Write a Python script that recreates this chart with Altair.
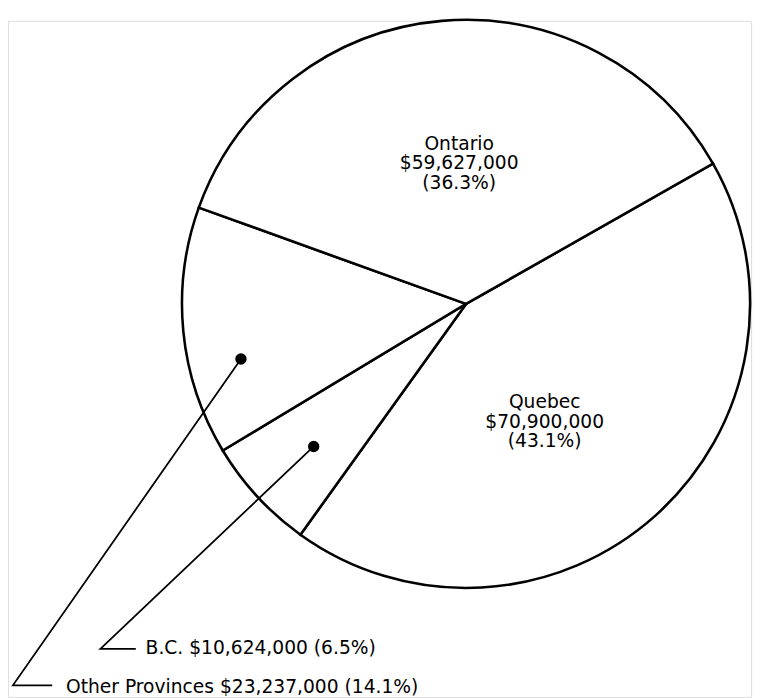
import math
import altair as alt
import pandas as pd

# ---- data ----
provinces = ["Quebec", "B.C.", "Other Provinces", "Ontario"]
amounts = [70900000, 10624000, 23237000, 59627000]
amount_labels = ["$70,900,000", "$10,624,000", "$23,237,000", "$59,627,000"]
percent_labels = ["(43.1%)", "(6.5%)", "(14.1%)", "(36.3%)"]
slice_order = [0, 1, 2, 3]

# ---- layout (chart pixel frame) ----
W, H = 756, 688
CX, CY, R = 466, 288, 289
START = math.radians(60.4)
FONT = "DejaVu Sans"
FS = 19

pie_df = pd.DataFrame({"province": provinces, "amount": amounts, "order": slice_order})

pie = alt.Chart(pie_df).mark_arc(
    radius=R, fill="white", stroke="black", strokeWidth=2.6
).encode(
    theta=alt.Theta("amount:Q", stack=True,
                    scale=alt.Scale(range=[START, START + 2 * math.pi])),
    order=alt.Order("order:Q"),
    x=alt.value(CX),
    y=alt.value(CY),
)

xs = alt.Scale(domain=[0, W], nice=False, zero=False)
ys = alt.Scale(domain=[0, H], reverse=True, nice=False, zero=False)

# labels inside slices (one row per text line)
inside_pos = {"Ontario": (459, [131, 151, 171]), "Quebec": (546, [394, 414, 434])}
rows = []
for p, (lx, lys) in inside_pos.items():
    i = provinces.index(p)
    for txt, ly in zip([p, amount_labels[i], percent_labels[i]], lys):
        rows.append({"px": lx, "py": ly, "t": txt})
inside_df = pd.DataFrame(rows)

inside = alt.Chart(inside_df).mark_text(
    font=FONT, fontSize=FS, align="center", baseline="alphabetic", color="black"
).encode(
    x=alt.X("px:Q", scale=xs, axis=None),
    y=alt.Y("py:Q", scale=ys, axis=None),
    text="t:N",
)

# callouts for small slices
callout_pos = {
    "B.C.": [(311, 433), (94, 639), (130, 639)],
    "Other Provinces": [(237, 344), (5, 676), (45, 676)],
}
text_pos = {"B.C.": (140, 644), "Other Provinces": (59, 684)}

line_rows, dot_rows, lab_rows = [], [], []
for p, pts in callout_pos.items():
    for k, (a, b) in enumerate(pts):
        line_rows.append({"g": p, "seq": k, "px": a, "py": b})
    dot_rows.append({"px": pts[0][0], "py": pts[0][1]})
    i = provinces.index(p)
    tx, ty = text_pos[p]
    lab_rows.append({"px": tx, "py": ty,
                     "t": f"{p} {amount_labels[i]} {percent_labels[i]}"})

leaders = alt.Chart(pd.DataFrame(line_rows)).mark_line(
    color="black", strokeWidth=1.8
).encode(
    x=alt.X("px:Q", scale=xs, axis=None),
    y=alt.Y("py:Q", scale=ys, axis=None),
    detail="g:N",
    order="seq:Q",
)

dots = alt.Chart(pd.DataFrame(dot_rows)).mark_point(
    filled=True, color="black", size=135, opacity=1
).encode(
    x=alt.X("px:Q", scale=xs, axis=None),
    y=alt.Y("py:Q", scale=ys, axis=None),
)

outside = alt.Chart(pd.DataFrame(lab_rows)).mark_text(
    font=FONT, fontSize=FS, align="left", baseline="alphabetic", color="black"
).encode(
    x=alt.X("px:Q", scale=xs, axis=None),
    y=alt.Y("py:Q", scale=ys, axis=None),
    text="t:N",
)

chart = alt.layer(pie, leaders, dots, inside, outside).properties(
    width=W, height=H, padding=0
).configure_view(stroke="transparent", strokeWidth=0).configure(background="white")

chart.save("out.html", embed_options={"renderer": "svg", "actions": False})
